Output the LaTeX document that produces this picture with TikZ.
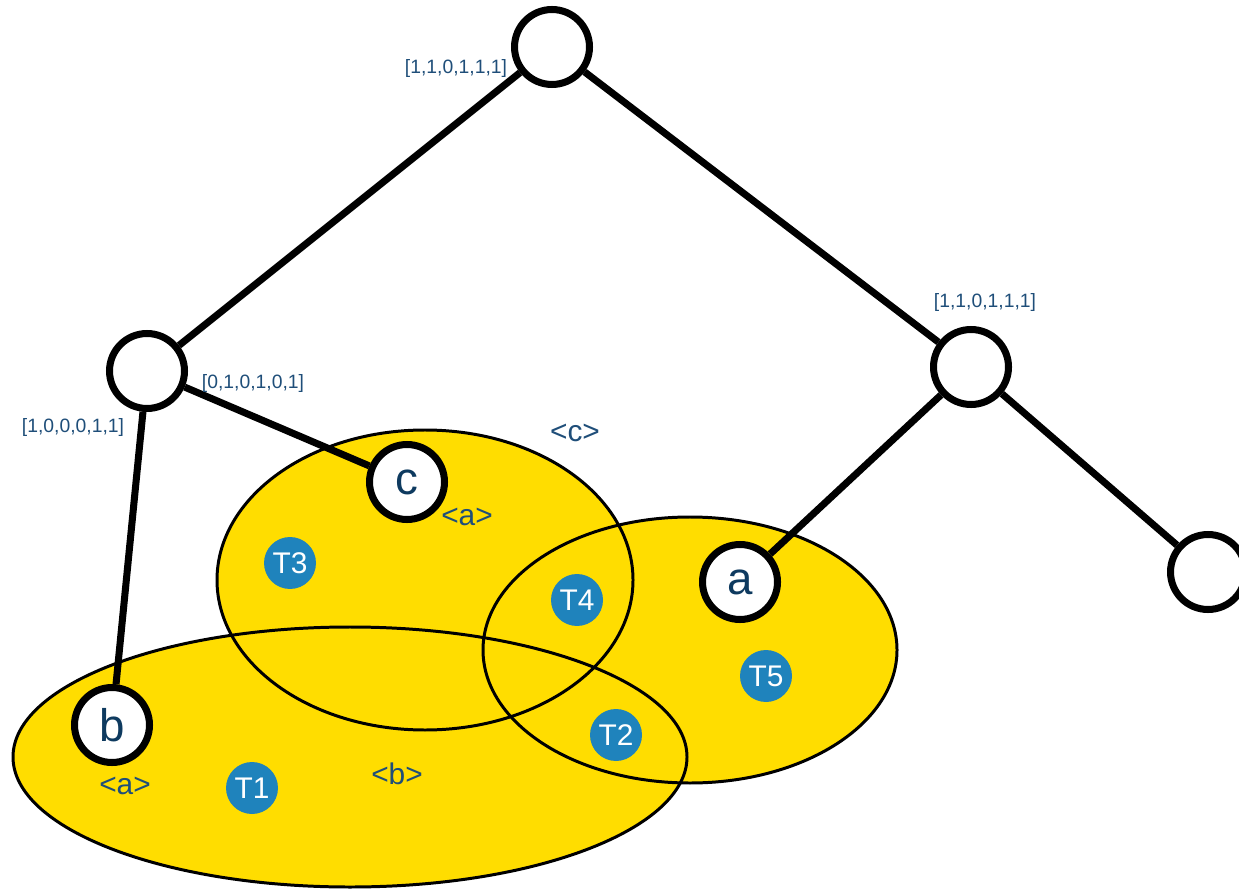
\documentclass[tikz,border=0pt]{standalone}
\usepackage{fontspec}
\setmainfont{Liberation Sans}
\usepackage{tikz}
\usetikzlibrary{shapes}

\definecolor{setyellow}{HTML}{FFDD00}
\definecolor{tokenblue}{HTML}{1F83BC}
\definecolor{labelblue}{HTML}{1F4E79}
\definecolor{leafblue}{HTML}{0E3A5F}

\begin{document}
\begin{tikzpicture}[x=0.02cm,y=-0.02cm]
			\tikzstyle{every node} = [font = \small]
			\tikzstyle{treenode} = [circle, draw, line width=4pt, fill=white,
				minimum size=1.5cm, inner sep=0pt]
			\tikzstyle{leafnode} = [treenode, text=leafblue,
				font=\fontsize{26}{26}\selectfont]
			\tikzstyle{token} = [circle, fill=tokenblue, text=white,
				minimum size=1.04cm, inner sep=0pt, font=\fontsize{17}{17}\selectfont]
			\tikzstyle{vec} = [text=labelblue, font=\fontsize{11}{11}\selectfont]
			\tikzstyle{tag} = [text=labelblue, font=\fontsize{17}{17}\selectfont]
			\tikzstyle{branch} = [draw, line width=4pt]
				\useasboundingbox (0,0) rectangle (1239,891);
				% the three sets: fill all, then outline all
				\foreach \cx/\cy/\rx/\ry in {425/580/208/150, 690/650/207/133, 350/757/337/130}
					\path[fill=setyellow] (\cx,\cy) ellipse [x radius=\rx, y radius=\ry];
				\foreach \cx/\cy/\rx/\ry in {425/580/208/150, 690/650/207/133, 350/757/337/130}
					\path[draw, line width=1.7pt] (\cx,\cy) ellipse [x radius=\rx, y radius=\ry];
				% tree
				\node[treenode] (root) at (552,47) {};
				\node[treenode] (left) at (147,371) {};
				\node[treenode] (right) at (971,367) {};
				\node[treenode] (rleaf) at (1208,572) {};
				\node[leafnode] (c) at (407,482) {c};
				\node[leafnode] (a) at (740,582) {a};
				\node[leafnode] (b) at (112,725) {b};
				\path[branch] (root) -- (left);
				\path[branch] (root) -- (right);
				\path[branch] (left) -- (c);
				\path[branch] (left) -- (b);
				\path[branch] (right) -- (a);
				\path[branch] (right) -- (rleaf);
				% bit vectors
				\node[vec] (vroot) at (456,69) {[1,1,0,1,1,1]};
				\node[vec] (vright) at (985,303) {[1,1,0,1,1,1]};
				\node[vec] (vleftc) at (253,384) {[0,1,0,1,0,1]};
				\node[vec] (vleftb) at (73,428) {[1,0,0,0,1,1]};
				% set tags
				\node[tag] (tagc) at (575,433) {<c>};
				\node[tag] (tagca) at (467,517) {<a>};
				\node[tag] (tagba) at (125,786) {<a>};
				\node[tag] (tagb) at (397,774) {<b>};
				% transactions
				\foreach \n/\x/\y in {1/252/788, 2/616/735, 3/290/563, 4/577/600, 5/766/676}
					\node[token] (t\n) at (\x,\y) {T\n};
\end{tikzpicture}
\end{document}
